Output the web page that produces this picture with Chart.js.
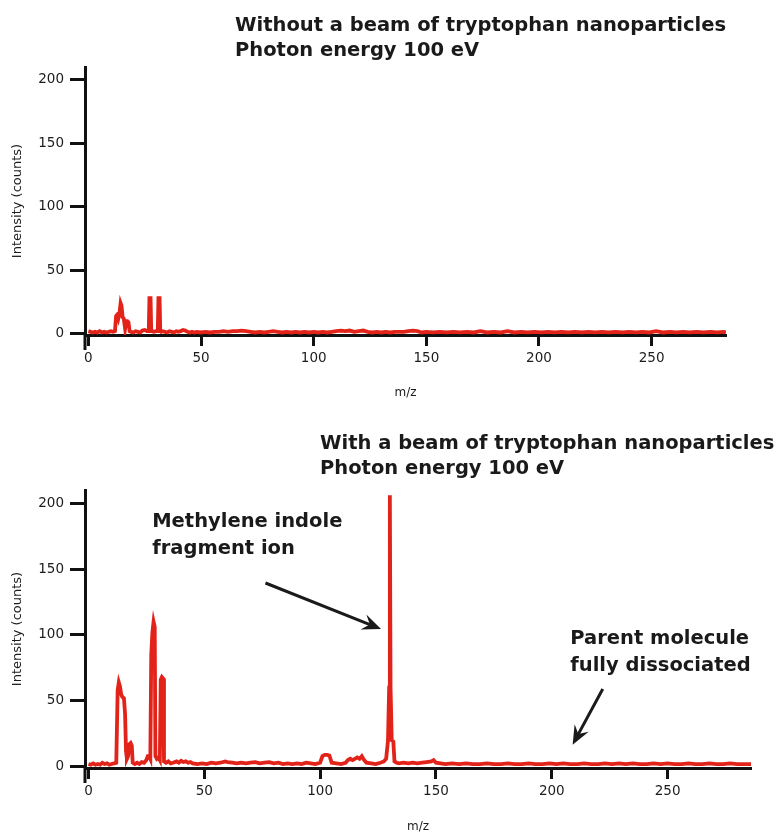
<!DOCTYPE html>
<html><head><meta charset="utf-8">
<script src="https://cdn.jsdelivr.net/npm/chart.js@4"></script>
<style>
html,body{margin:0;padding:0;background:#fff;}
#wrap{position:relative;width:775px;height:836px;overflow:hidden;background:#fff;}
canvas{position:absolute;left:0;}
.title{position:absolute;font-family:"DejaVu Sans";font-weight:bold;font-size:19.5px;line-height:25px;color:#1a1a1a;white-space:nowrap;}
</style></head><body>
<div id="wrap">
<canvas id="c1" style="top:0" width="775" height="410"></canvas>
<canvas id="c2" style="top:420px" width="775" height="416"></canvas>
<div class="title" style="left:235px;top:12px">Without a beam of tryptophan nanoparticles<br>Photon energy 100 eV</div>
<div class="title" style="left:320px;top:430px">With a beam of tryptophan nanoparticles<br>Photon energy 100 eV</div>
</div>
<script>
// ---------- data ----------
const topMz = [0,1,2,3,4,5,6,7,8,9,10,11,
  11.8,12.3,12.8,13.3,13.8,14.3,14.7,15.2,15.7,16.3,16.8,17.3,17.8,18.3,
  19,20,21,22,23,24,25,26,
  26.8,27.1,27.6,27.9,28.3,29,30,
  30.8,31.1,31.6,31.9,32.3,33,34,35,36,37,38,39,40,41,42,43,44,45,46,47,48,
  50,52,54,56,58,60,62,64,66,68,70,72,74,76,78,80,82,84,86,88,90,92,94,96,98,100,
  102,104,106,108,110,112,114,116,118,120,122,124,126,128,130,132,134,136,138,140,
  142,144,146,148,150,153,156,159,162,165,168,171,174,177,180,183,186,189,192,195,
  198,201,204,207,210,213,216,219,222,225,228,231,234,237,240,243,246,249,252,255,
  258,261,264,267,270,273,276,279,282,283];
const topCounts = [2,1.5,1,1.5,1,2,1,1.5,1,1.5,2,1.5,
  2,14,15,12,16,24,22,13,12,4,10,10,9,2,
  1.5,1,2,1.5,1,2.5,3,2,
  2,28,28,2,2,1.5,2,
  2,28,28,2,1.5,2,1.5,1,2,1.5,1,2,1.5,2,3,2.5,1.5,1,1.5,1,1.5,
  1,1.5,1,1.5,1.5,2,1.5,2,2,2.5,2,1.5,1,1.5,1,1.5,2,1.5,1,1.5,1,1.5,1,1.5,1,1.5,
  1,1.5,1,1.5,2,2.5,2,2.5,1.5,2,2.5,1.5,1,1.5,1,1.5,1,1.5,1.5,1.5,
  2,2.5,2,1,1.5,1,1.5,1,1.5,1,1.5,1,2,1,1.5,1,2,1,1.5,1,
  1.5,1,1.5,1,1.5,1,1.5,1,1.5,1,1.5,1,1.5,1,1.5,1,1.5,1,2,1,
  1.5,1,1.5,1,1.5,1,1.5,1,1.5,1];

const botMz = [0,1,2,3,4,5,6,7,8,9,10,11,12,
  12.6,13.1,13.6,14.1,14.6,15.3,15.8,16.2,16.6,17.1,17.6,18.2,18.7,19.1,
  20,21,22,23,24,25,25.6,26.2,26.7,27.1,27.6,28.1,28.6,28.9,29.5,30.2,30.8,
  31.2,31.7,32.2,32.6,33.5,34.5,35.5,36.5,38,39,40,41,42,43,44,45,47,49,51,53,55,57,
  59,60,62,64,66,68,70,72,74,76,78,80,82,84,86,88,90,92,94,96,98,100,
  101,102,103,104,105,107,109,111,112,113,114,115,116,117,118,119,120,122,124,126,
  127.5,128.5,129.3,129.8,130.1,130.4,130.9,131.6,132.1,133,134,136,138,140,142,144,146,148,149,150,
  152,154,157,160,163,166,169,172,175,178,181,184,187,190,193,196,199,202,205,208,
  211,214,217,220,223,226,229,232,235,238,241,244,247,250,253,256,259,262,265,268,
  271,274,277,280,283,286];
const botCounts = [2,1.5,2.5,1.5,2,1.5,3,2,2.5,1.5,2,2.5,3,
  58,64,61,55,53,52,40,12,6,8,17,18,16,3,
  2,3,2,3.5,3,5,8,8,6,85,102,110,106,8,6,7,5,
  66,68,67,4,3,4,2.5,3,4,3,4.5,3.5,4,3,3.5,2.5,2,2.5,2,3,2.5,3,
  4,3.5,3,2.5,3,2.5,3,3.5,2.5,3,3.5,2.5,3,2,2.5,2,2.5,2,3,2.5,2,3,
  8,9,9,8.5,3,2.5,2,3,5,6,5,6,7,6,8,5,3,2.5,2,3,
  4,6,20,60,206,60,20,19,4,3,2.5,3,2.5,3,2.5,3,3.5,4,5,3,
  2.5,2,2.5,2,2.5,2,2,2.5,2,2,2.5,2,2,2.5,2,2,2.5,2,2.5,2,
  2,2.5,2,2,2.5,2,2.5,2,2.5,2,2,2.5,2,2.5,2,2,2.5,2,2,2.5,
  2,2,2.5,2,2,2];

const yTickValues = [0,50,100,150,200];
const xTickValues = [0,50,100,150,200,250];

// ---------- styling ----------
const RED = '#e2231a';
const AXIS = '#111';
const TEXT = '#1c1c1c';
const FONT = '"DejaVu Sans", sans-serif';

const annotPlugin = {
  id: 'annot',
  afterDatasetsDraw(chart, args, opts) {
    const {ctx, scales: {x, y}, chartArea} = chart;
    ctx.save();
    // y axis continues a little below the x axis
    ctx.strokeStyle = AXIS; ctx.lineWidth = 3;
    ctx.beginPath();
    ctx.moveTo(chartArea.left, chartArea.bottom);
    ctx.lineTo(chartArea.left, chartArea.bottom + 15);
    ctx.stroke();
    ctx.fillStyle = '#1a1a1a';
    ctx.font = 'bold 19.5px ' + FONT;
    ctx.textAlign = 'left';
    ctx.textBaseline = 'middle';
    (opts.texts || []).forEach(t => {
      ctx.fillText(t.text, x.getPixelForValue(t.x), y.getPixelForValue(t.y));
    });
    (opts.arrows || []).forEach(a => {
      const x0 = x.getPixelForValue(a.from[0]), y0 = y.getPixelForValue(a.from[1]);
      const x1 = x.getPixelForValue(a.to[0]), y1 = y.getPixelForValue(a.to[1]);
      const ang = Math.atan2(y1 - y0, x1 - x0);
      const L = 19, W = 8, N = 12;
      ctx.strokeStyle = '#1a1a1a'; ctx.lineWidth = 3;
      ctx.beginPath();
      ctx.moveTo(x0, y0);
      ctx.lineTo(x1 - Math.cos(ang) * N, y1 - Math.sin(ang) * N);
      ctx.stroke();
      const bx = x1 - Math.cos(ang) * L, by = y1 - Math.sin(ang) * L;
      const nx = x1 - Math.cos(ang) * N, ny = y1 - Math.sin(ang) * N;
      ctx.beginPath();
      ctx.moveTo(x1, y1);
      ctx.lineTo(bx + Math.sin(ang) * W, by - Math.cos(ang) * W);
      ctx.lineTo(nx, ny);
      ctx.lineTo(bx - Math.sin(ang) * W, by + Math.cos(ang) * W);
      ctx.closePath();
      ctx.fill();
    });
    ctx.restore();
  }
};

function makeChart(id, mz, counts, cfg) {
  const pts = mz.map((m, i) => ({x: m, y: counts[i]}));
  return new Chart(document.getElementById(id), {
    type: 'line',
    data: {datasets: [{data: pts, borderColor: RED, borderWidth: 3.8, pointRadius: 0,
      tension: 0, fill: false, borderJoinStyle: 'miter', spanGaps: true}]},
    options: {
      responsive: false, animation: false, devicePixelRatio: 1,
      layout: {padding: {top: cfg.top, right: cfg.right, left: 0, bottom: 0}},
      plugins: {legend: {display: false}, tooltip: {enabled: false}, title: {display: false},
        annot: {texts: cfg.texts, arrows: cfg.arrows}},
      scales: {
        x: {type: 'linear', min: -1.5, max: cfg.xMax,
          afterFit: s => { s.height = cfg.xAxisH; },
          afterBuildTicks: s => { s.ticks = xTickValues.map(v => ({value: v})); },
          border: {display: true, color: AXIS, width: 3},
          grid: {display: true, drawOnChartArea: false, drawTicks: true, tickLength: 11, tickWidth: 3, tickColor: AXIS},
          ticks: {font: {family: FONT, size: 13.5}, color: TEXT, padding: 4, maxRotation: 0},
          title: {display: true, text: 'm/z', font: {family: FONT, size: 12}, color: TEXT,
            padding: {top: 0, bottom: cfg.mzPad}}
        },
        y: {type: 'linear', min: -1, max: 210,
          afterFit: s => { s.width = cfg.yAxisW; },
          afterBuildTicks: s => { s.ticks = yTickValues.map(v => ({value: v})); },
          border: {display: true, color: AXIS, width: 3},
          grid: {display: true, drawOnChartArea: false, drawTicks: true, tickLength: 15, tickWidth: 3, tickColor: AXIS},
          ticks: {font: {family: FONT, size: 13.5}, color: TEXT, padding: 6},
          title: {display: true, text: 'Intensity (counts)', font: {family: FONT, size: 13}, color: TEXT,
            padding: {top: 10, bottom: 0}}
        }
      }
    },
    plugins: [annotPlugin]
  });
}

makeChart('c1', topMz, topCounts, {
  top: 67, right: 49, xMax: 283, xAxisH: 75, yAxisW: 85, mzPad: 10,
  texts: [], arrows: []
});

makeChart('c2', botMz, botCounts, {
  top: 70, right: 24, xMax: 286, xAxisH: 68, yAxisW: 85, mzPad: 2,
  texts: [
    {text: 'Methylene indole', x: 27.5, y: 186},
    {text: 'fragment ion', x: 27.5, y: 165},
    {text: 'Parent molecule', x: 208, y: 97},
    {text: 'fully dissociated', x: 208, y: 76.5}
  ],
  arrows: [
    {from: [76.4, 139.4], to: [126.3, 104.5]},
    {from: [222, 59], to: [209, 16.7]}
  ]
});
</script>
</body></html>
